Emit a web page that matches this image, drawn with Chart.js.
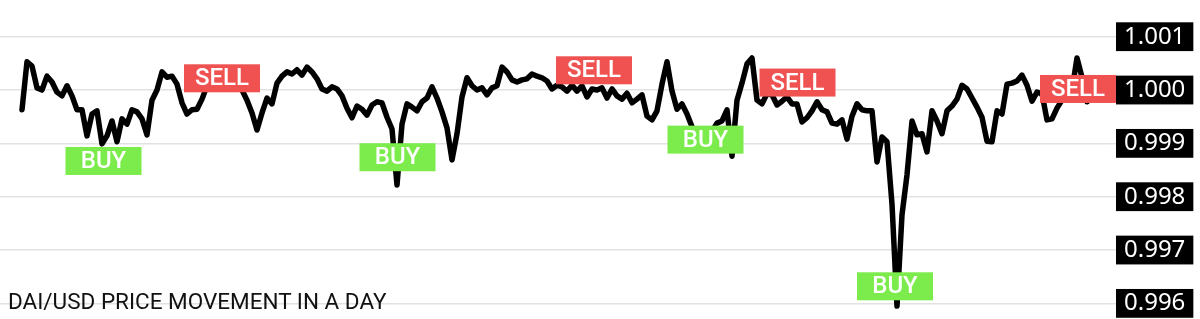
<!DOCTYPE html>
<html>
<head>
<meta charset="utf-8">
<script src="https://cdn.jsdelivr.net/npm/chart.js@4/dist/chart.umd.min.js"></script>
<style>
  html, body { margin: 0; padding: 0; background: #fff; }
  #wrap { position: relative; width: 1200px; height: 319px; }
  #caption {
    position: absolute; left: 8px; top: 290px;
    font: 400 22.5px/22px Roboto, sans-serif; color: #111; white-space: nowrap;
  }
</style>
</head>
<body>
<div id="wrap">
  <canvas id="chart"></canvas>
  <div id="caption">DAI/USD PRICE MOVEMENT IN A DAY</div>
</div>
<script>
// DAI/USD price samples over the day
const prices = [
  0.99963, 1.00053, 1.00045, 1.00004, 1.00000, 1.00026, 1.00015, 0.99996, 0.99989, 1.00008,
  0.99989, 0.99963, 0.99963, 0.99914, 0.99955, 0.99961, 0.99899, 0.99914, 0.99942, 0.99903,
  0.99946, 0.99936, 0.99963, 0.99959, 0.99946, 0.99916, 0.99981, 1.00000, 1.00034, 1.00024,
  1.00026, 1.00011, 0.99976, 0.99955, 0.99963, 0.99964, 0.99983, 1.00008, 1.00019, 1.00019,
  1.00013, 1.00015, 1.00009, 1.00011, 1.00000, 0.99981, 0.99957, 0.99925, 0.99957, 0.99985,
  0.99974, 1.00013, 1.00026, 1.00034, 1.00030, 1.00038, 1.00028, 1.00043, 1.00034, 1.00021,
  1.00002, 0.99998, 1.00006, 1.00002, 0.99989, 0.99966, 0.99948, 0.99970, 0.99964, 0.99953,
  0.99972, 0.99978, 0.99976, 0.99949, 0.99927, 0.99822, 0.99936, 0.99974, 0.99968, 0.99961,
  0.99978, 0.99985, 1.00006, 0.99985, 0.99959, 0.99929, 0.99869, 0.99918, 0.99987, 1.00023,
  1.00008, 1.00000, 1.00004, 0.99991, 1.00004, 1.00008, 1.00043, 1.00034, 1.00019, 1.00015,
  1.00019, 1.00021, 1.00030, 1.00026, 1.00023, 1.00017, 1.00002, 1.00009, 1.00006, 0.99998,
  1.00009, 0.99998, 1.00008, 0.99987, 1.00002, 1.00000, 1.00004, 0.99985, 1.00002, 0.99989,
  0.99983, 0.99994, 0.99976, 0.99983, 0.99991, 0.99951, 0.99944, 0.99961, 1.00011, 1.00053,
  0.99998, 0.99964, 0.99974, 0.99955, 0.99931, 0.99916, 0.99908, 0.99910, 0.99923, 0.99938,
  0.99942, 0.99963, 0.99876, 0.99981, 1.00013, 1.00049, 1.00060, 0.99981, 0.99974, 0.99993,
  0.99991, 0.99972, 0.99979, 0.99987, 0.99974, 0.99974, 0.99940, 0.99948, 0.99961, 0.99978,
  0.99963, 0.99959, 0.99938, 0.99936, 0.99944, 0.99908, 0.99951, 0.99974, 0.99963, 0.99961,
  0.99961, 0.99865, 0.99912, 0.99903, 0.99786, 0.99595, 0.99766, 0.99841, 0.99942, 0.99916,
  0.99918, 0.99884, 0.99961, 0.99942, 0.99918, 0.99961, 0.99970, 0.99983, 1.00009, 1.00002,
  0.99985, 0.99968, 0.99949, 0.99904, 0.99903, 0.99961, 0.99955, 1.00011, 1.00013, 1.00017,
  1.00028, 1.00009, 0.99979, 0.99996, 0.99993, 0.99944, 0.99946, 0.99966, 0.99981, 0.99989,
  1.00000, 1.00060, 1.00024, 0.99978
];
const sampleIndex = prices.map((_, i) => i);

// trade signals: kind, sample index and price level of the tag
const signalKinds = ['BUY', 'SELL', 'BUY', 'SELL', 'BUY', 'SELL', 'BUY', 'SELL'];
const signalAt = [16.3, 40, 75.1, 114.4, 136.7, 155.1, 174.6, 211.2];
const signalPrice = [0.99867, 1.00022, 0.99874, 1.00037, 0.99907, 1.00014, 0.99632, 1.00002];

const yTicks = [0.996, 0.997, 0.998, 0.999, 1.000, 1.001];

const signalColors = { BUY: '#7bec4b', SELL: '#f05252' };

const signalTags = {
  id: 'signalTags',
  afterDatasetsDraw(chart) {
    const { ctx, scales: { x, y } } = chart;
    ctx.save();
    ctx.font = '500 24px Roboto, sans-serif';
    ctx.textAlign = 'center';
    ctx.textBaseline = 'middle';
    signalKinds.forEach((kind, i) => {
      const cx = x.getPixelForValue(signalAt[i]);
      const cy = y.getPixelForValue(signalPrice[i]);
      ctx.fillStyle = signalColors[kind];
      ctx.fillRect(cx - 38, cy - 14, 76, 28);
      ctx.fillStyle = '#fff';
      ctx.fillText(kind, cx, cy + 1);
    });
    ctx.restore();
  }
};

new Chart(document.getElementById('chart'), {
  type: 'line',
  data: {
    datasets: [{
      label: 'DAI/USD',
      data: sampleIndex.map((t, i) => ({ x: t, y: prices[i] })),
      borderColor: '#000',
      borderWidth: 5.5,
      borderJoinStyle: 'round',
      borderCapStyle: 'round',
      pointRadius: 0,
      tension: 0,
      fill: false
    }]
  },
  options: {
    responsive: true,
    maintainAspectRatio: false,
    animation: false,
    layout: { padding: 0 },
    plugins: { legend: { display: false }, tooltip: { enabled: false } },
    scales: {
      x: { type: 'linear', display: false, min: -4.4, max: 217.2 },
      y: {
        position: 'right',
        min: 0.995707,
        max: 1.001688,
        border: { display: false },
        grid: { color: '#e2e2e2', lineWidth: 1.5, tickLength: 8 },
        afterBuildTicks: s => { s.ticks = yTicks.map(v => ({ value: v })); },
        afterFit: s => { s.width = 92; s.paddingTop = 0; s.paddingBottom = 0; },
        ticks: {
          padding: 8,
          crossAlign: 'near',
          color: '#fff',
          font: { family: 'Noto Sans', size: 24 },
          showLabelBackdrop: true,
          backdropColor: '#000',
          backdropPadding: { top: 0, bottom: 0, left: 8, right: 8 },
          callback: v => v.toFixed(3)
        }
      }
    }
  },
  plugins: [signalTags]
});
</script>
</body>
</html>
